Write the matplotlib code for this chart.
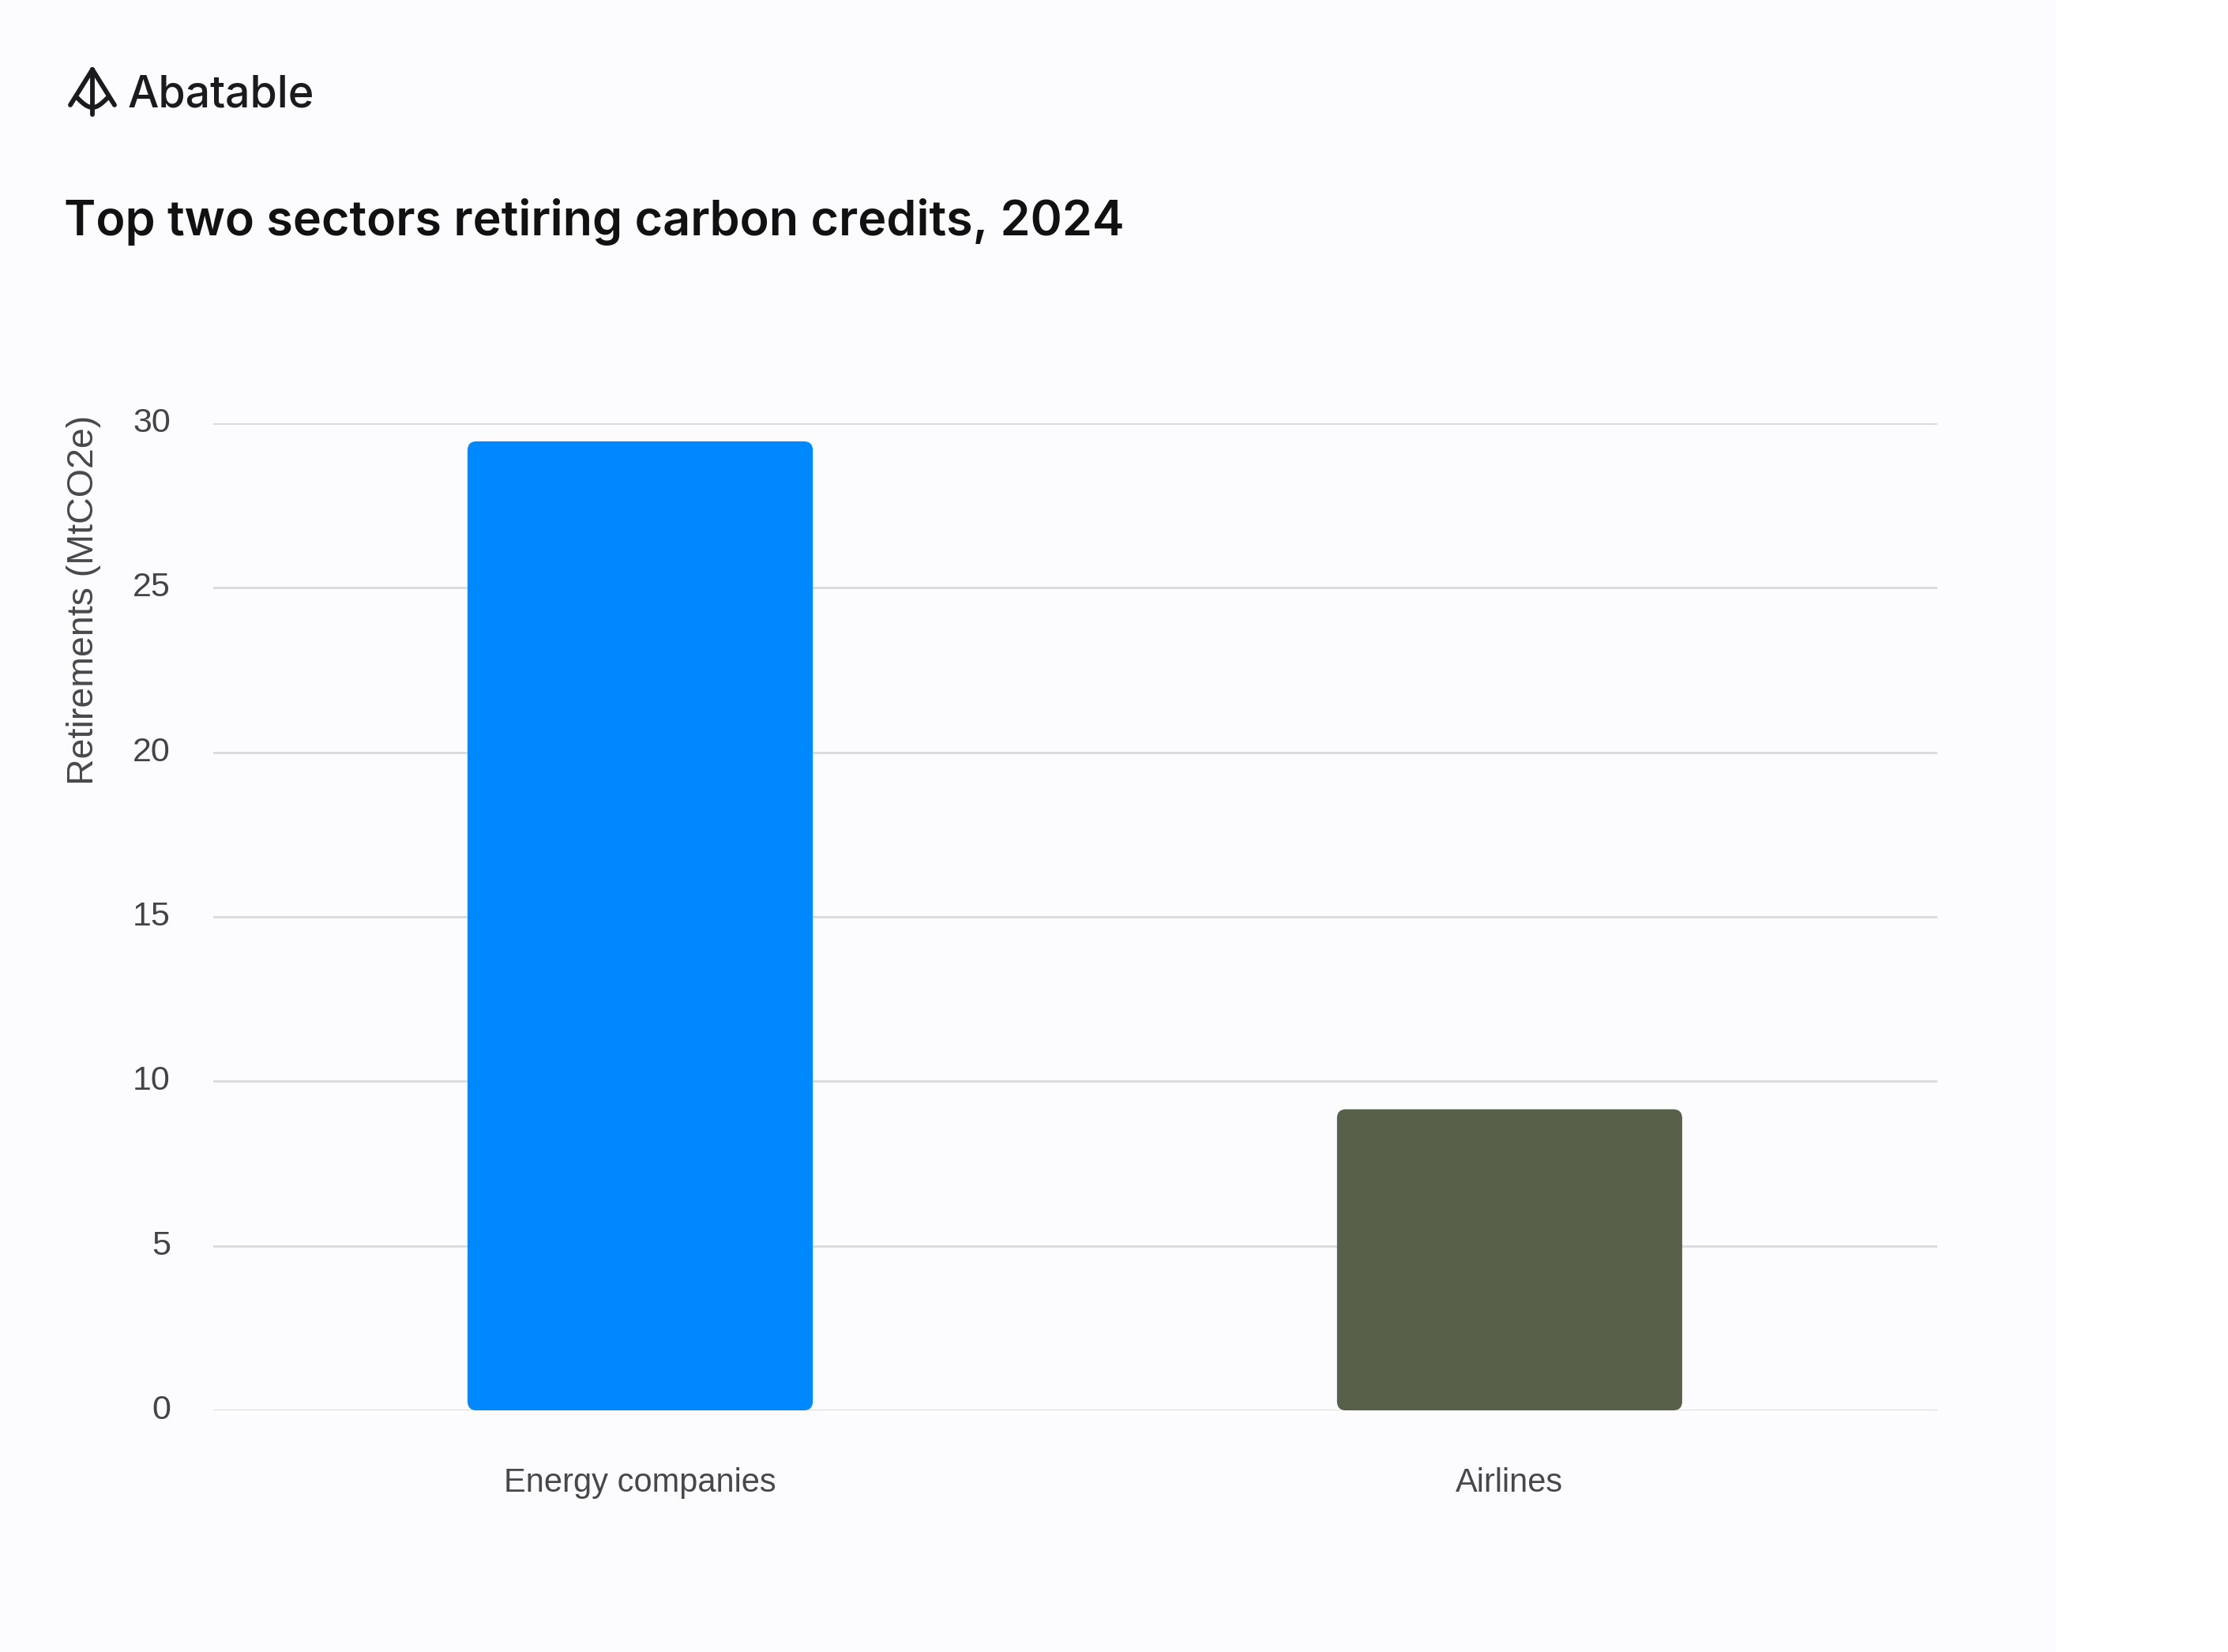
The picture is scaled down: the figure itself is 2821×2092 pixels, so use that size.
import numpy as np
import matplotlib
matplotlib.use("Agg")
import matplotlib.pyplot as plt
from matplotlib.patches import FancyBboxPatch
from matplotlib.lines import Line2D

# data
sectors = ["Energy companies", "Airlines"]
retirements = [29.45, 9.15]  # MtCO2e
bar_colors = ["#0088FF", "#576048"]
y_ticks = [0, 5, 10, 15, 20, 25, 30]

W, H = 2821, 2092
fig = plt.figure(figsize=(W / 100, H / 100), dpi=100)
fig.patch.set_facecolor("white")

# light card behind everything
card = FancyBboxPatch((-40 / W, -40 / H), (2604 + 40) / W, (H + 80) / H,
                      boxstyle="round,pad=0,rounding_size=0.013",
                      mutation_aspect=W / H,
                      transform=fig.transFigure, facecolor="#FCFBFE",
                      edgecolor="none", zorder=-10)
fig.patches.append(card)


def px(x, y):
    return x / W, 1 - y / H


# logo icon
icon = dict(color="#1b1b1f", lw=4.2, solid_capstyle="round", transform=fig.transFigure)
ax_x, ax_y = px(117, 88)
for bx, by in [(89, 133), (145, 133)]:
    x1, y1 = px(bx, by)
    fig.lines.append(Line2D([ax_x, x1], [ax_y, y1], **icon))
x0, y0 = px(117, 145)
fig.lines.append(Line2D([ax_x, x0], [ax_y, y0], **icon))
t = np.linspace(0, 1, 30)
arc_x = 98 + (136 - 98) * t
arc_y = 124 + 12 * np.sin(np.pi * t)
fig.lines.append(Line2D(arc_x / W, 1 - arc_y / H, **icon))

fig.text(162 / W, 1 - 136 / H, "Abatable", fontsize=40, family="Inter",
         weight="medium", color="#1b1b1f", va="baseline", ha="left")

fig.text(81 / W, 1 - 298 / H, "Top two sectors retiring carbon credits, 2024",
         fontsize=44, family="Inter", weight="semibold", color="#111111",
         va="baseline", ha="left")

left, right, top, bottom = 270, 2453, 536, 1786
ax = fig.add_axes([left / W, 1 - bottom / H, (right - left) / W, (bottom - top) / H])
ax.set_facecolor("none")

x = np.arange(len(sectors))
bars = ax.bar(x, retirements, width=0.397, color=bar_colors, zorder=3)
# swap in slightly rounded rectangles
for b in bars:
    b.set_visible(False)
    rp = FancyBboxPatch((b.get_x(), b.get_y()), b.get_width(), b.get_height(),
                        boxstyle="round,pad=0,rounding_size=0.01",
                        mutation_aspect=27, facecolor=b.get_facecolor(),
                        edgecolor="none", zorder=3)
    ax.add_patch(rp)

ax.set_xlim(-0.491, 1.492)
ax.set_ylim(0, 30)
ax.set_yticks(y_ticks)
ax.set_xticks(x)
ax.set_xticklabels(sectors)
ax.grid(axis="y", color="#dcdbe0", lw=2.2, zorder=0)
ax.set_axisbelow(True)
for s in ax.spines.values():
    s.set_visible(False)
ax.tick_params(axis="y", length=0, labelsize=31, labelcolor="#444448", pad=39)
ax.tick_params(axis="x", length=0, labelsize=30, labelcolor="#48484c", pad=66)
for lab in ax.get_xticklabels() + ax.get_yticklabels():
    lab.set_family("Liberation Sans")
    lab.set_va("center")

fig.text(106 / W, 1 - 526 / H, "Retirements (MtCO2e)", rotation=90,
         fontsize=33.5, family="Liberation Sans", color="#48484c",
         ha="center", va="top")

fig.savefig("out.png", dpi=100, facecolor=fig.get_facecolor())
